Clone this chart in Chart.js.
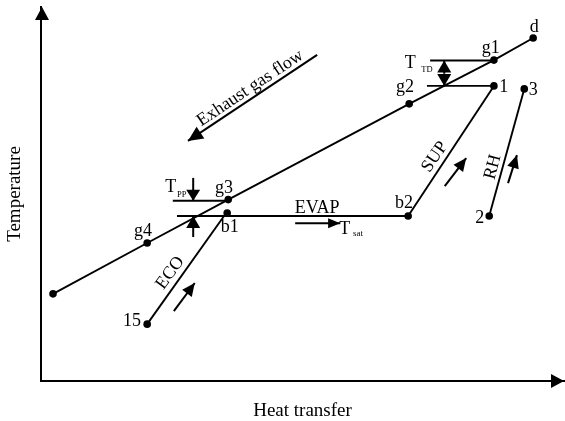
<!DOCTYPE html>
<html>
<head>
<meta charset="utf-8">
<script src="https://cdn.jsdelivr.net/npm/chart.js@4"></script>
<style>
  html, body { margin: 0; padding: 0; background: #fff; }
  #wrap { width: 565px; height: 421px; }
</style>
</head>
<body>
<div id="wrap"><canvas id="tq"></canvas></div>
<script>
// T-Q diagram, relative units (0-100) on both axes
// exhaust gas: stack, g4, g3, g2, g1, d
var gasQ = [2.3, 20.3, 35.8, 70.4, 86.6, 94.1];
var gasT = [23.3, 36.9, 48.5, 74.1, 85.8, 91.7];
// economizer 15 -> b1
var ecoQ = [20.3, 35.0];
var ecoT = [15.2, 44.1];
// evaporator -> b2
var evapQ = [26.0, 70.2];
var evapT = [44.1, 44.1];
// superheater b2 -> 1
var supQ = [70.2, 86.6];
var supT = [44.1, 78.9];
// reheater 2 -> 3
var rhQ = [85.7, 92.4];
var rhT = [44.1, 78.1];
// b1 point
var b1Q = [35.6];
var b1T = [44.9];
// pinch point and terminal difference guide lines
var ppQ = [25.2, 35.8];
var ppT = [48.2, 48.2];
var tdTopQ = [74.4, 86.6];
var tdTopT = [85.7, 85.7];
var tdLowQ = [73.8, 86.6];
var tdLowT = [78.9, 78.9];

function pts(q, t) {
  var out = [];
  for (var i = 0; i < q.length; i++) out.push({x: q[i], y: t[i]});
  return out;
}

var arrows = [
  {q: [52.8, 28.1], t: [87.2, 64.2], len: 15, w: 7},   // exhaust gas flow
  {q: [48.6, 57.2], t: [42.2, 42.2], len: 12, w: 5},   // evap
  {q: [25.4, 29.4], t: [18.7, 26.2], len: 13, w: 6},   // eco
  {q: [77.2, 81.3], t: [52.1, 59.6], len: 13, w: 6},   // sup
  {q: [89.3, 91.0], t: [52.9, 60.4], len: 13, w: 6},   // rh
  {q: [29.1, 29.1], t: [54.3, 48.2], len: 11, w: 7},   // pinch down
  {q: [29.1, 29.1], t: [38.5, 44.1], len: 12, w: 7},   // pinch up
  {q: [77.1, 77.1], t: [82.2, 85.7], len: 12, w: 7},   // TD up
  {q: [77.1, 77.1], t: [82.2, 78.9], len: 12, w: 7}    // TD down
];

var labels = [
  {s: 'd', q: 94.3, t: 94.6},
  {s: 'g1', q: 86.0, t: 89.0},
  {s: 'g2', q: 69.6, t: 78.6},
  {s: '1', q: 88.5, t: 78.6},
  {s: '3', q: 94.1, t: 77.8},
  {s: 'b2', q: 69.4, t: 47.6},
  {s: '2', q: 83.9, t: 43.6},
  {s: 'g3', q: 35.0, t: 51.4},
  {s: 'b1', q: 36.1, t: 41.2},
  {s: 'g4', q: 19.5, t: 40.1},
  {s: '15', q: 17.4, t: 16.0},
  {s: 'EVAP', q: 52.8, t: 46.3},
  {s: 'T', q: 58.1, t: 40.6},
  {s: 'sat', q: 60.6, t: 39.3, size: 9},
  {s: 'T', q: 70.6, t: 85.0},
  {s: 'TD', q: 73.8, t: 83.2, size: 8.5},
  {s: 'T', q: 24.8, t: 51.8},
  {s: 'PP', q: 26.9, t: 49.9, size: 8.5},
  {s: 'Exhaust gas flow', q: 40.0, t: 78.3, rot: -33.7},
  {s: 'ECO', q: 24.7, t: 28.9, rot: -54},
  {s: 'SUP', q: 75.3, t: 59.9, rot: -56},
  {s: 'RH', q: 86.4, t: 57.2, rot: -75}
];

var FONT = '"Liberation Serif", "Times New Roman", serif';

function head(ctx, x0, y0, x1, y1, len, w) {
  var a = Math.atan2(y1 - y0, x1 - x0);
  ctx.beginPath();
  ctx.moveTo(x1, y1);
  ctx.lineTo(x1 - len * Math.cos(a) + w * Math.sin(a), y1 - len * Math.sin(a) - w * Math.cos(a));
  ctx.lineTo(x1 - len * Math.cos(a) - w * Math.sin(a), y1 - len * Math.sin(a) + w * Math.cos(a));
  ctx.closePath();
  ctx.fill();
}

var extras = {
  id: 'extras',
  afterDraw: function(chart) {
    var ctx = chart.ctx, xs = chart.scales.x, ys = chart.scales.y, area = chart.chartArea;
    ctx.save();
    ctx.fillStyle = '#000';
    ctx.strokeStyle = '#000';
    // axis arrow heads
    head(ctx, area.left + 1, area.bottom, area.left + 1, area.top, 13, 7);
    head(ctx, area.left, area.bottom, area.right, area.bottom, 13, 7);

    ctx.lineWidth = 2;
    arrows.forEach(function(a) {
      var x0 = xs.getPixelForValue(a.q[0]), y0 = ys.getPixelForValue(a.t[0]);
      var x1 = xs.getPixelForValue(a.q[1]), y1 = ys.getPixelForValue(a.t[1]);
      ctx.beginPath();
      ctx.moveTo(x0, y0);
      ctx.lineTo(x1, y1);
      ctx.stroke();
      head(ctx, x0, y0, x1, y1, a.len, a.w);
    });

    ctx.textAlign = 'center';
    ctx.textBaseline = 'middle';
    labels.forEach(function(l) {
      ctx.save();
      ctx.translate(xs.getPixelForValue(l.q), ys.getPixelForValue(l.t));
      if (l.rot) ctx.rotate(l.rot * Math.PI / 180);
      ctx.font = (l.size || 18) + 'px ' + FONT;
      ctx.fillText(l.s, 0, 0);
      ctx.restore();
    });
    ctx.restore();
  }
};

var lineStyle = {
  type: 'scatter', showLine: true, borderColor: '#000', borderWidth: 1.9,
  pointBackgroundColor: '#000', pointBorderColor: '#000', pointBorderWidth: 0
};

function ds(q, t, radius) {
  return Object.assign({}, lineStyle, {data: pts(q, t), pointRadius: radius, pointHoverRadius: radius});
}

new Chart(document.getElementById('tq'), {
  type: 'scatter',
  data: {
    datasets: [
      ds(gasQ, gasT, 3.8),
      ds(ecoQ, ecoT, [3.8, 0]),
      ds(evapQ, evapT, [0, 3.8]),
      ds(supQ, supT, [0, 3.8]),
      ds(rhQ, rhT, 3.8),
      Object.assign(ds(b1Q, b1T, 3.8), {showLine: false}),
      ds(ppQ, ppT, 0),
      ds(tdTopQ, tdTopT, 0),
      ds(tdLowQ, tdLowT, 0)
    ]
  },
  options: {
    responsive: true,
    maintainAspectRatio: false,
    animation: false,
    events: [],
    layout: {
      autoPadding: false,
      padding: {left: 0, top: 7, right: 1, bottom: 0}
    },
    plugins: {
      legend: {display: false},
      tooltip: {enabled: false}
    },
    scales: {
      x: {
        type: 'linear', min: 0, max: 100,
        grid: {display: false, drawTicks: false},
        border: {display: true, color: '#000', width: 2},
        ticks: {display: false},
        title: {display: true, text: 'Heat transfer', color: '#000',
          font: {family: FONT, size: 19}, padding: {top: 18.6, bottom: -1.4}}
      },
      y: {
        type: 'linear', min: 0, max: 100,
        grid: {display: false, drawTicks: false},
        border: {display: true, color: '#000', width: 2},
        ticks: {display: false},
        title: {display: true, text: 'Temperature', color: '#000',
          font: {family: FONT, size: 19}, padding: {top: 3.6, bottom: 14.6}}
      }
    }
  },
  plugins: [extras]
});
</script>
</body>
</html>
